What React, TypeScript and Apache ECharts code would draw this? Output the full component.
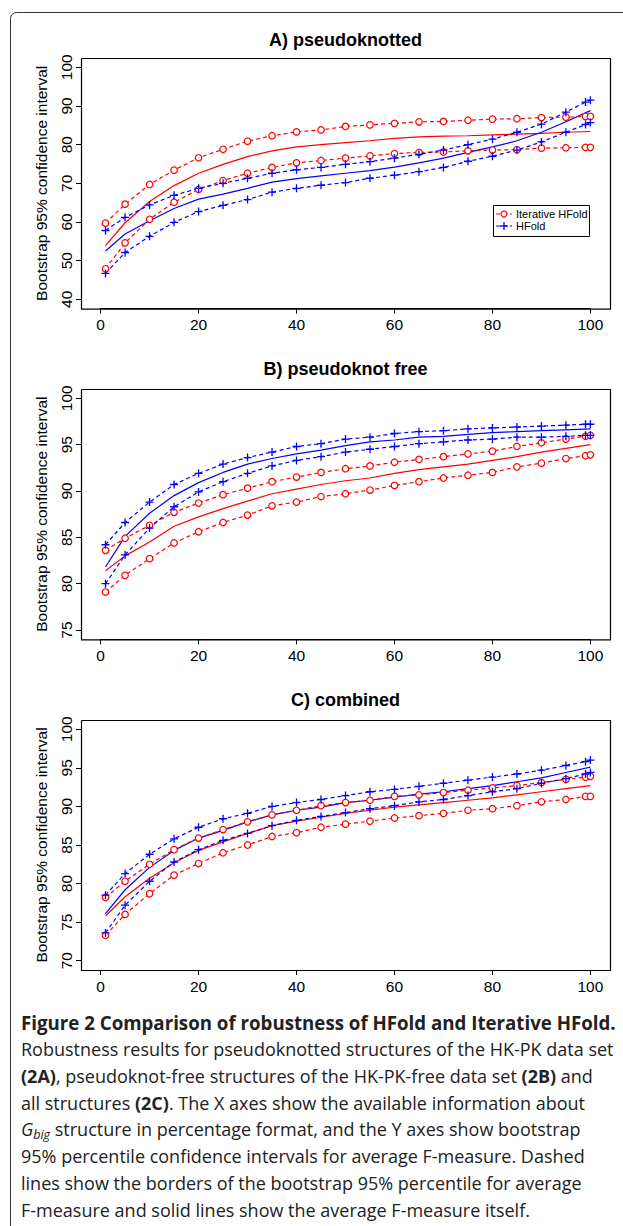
import React, { useEffect, useRef } from "react";
import * as echarts from "echarts";

// ---------- data ----------
const X_BOUND = [1, 5, 10, 15, 20, 25, 30, 35, 40, 45, 50, 55, 60, 65, 70, 75, 80, 85, 90, 95, 99, 100];
const X_MEAN = [1, 5, 10, 15, 20, 25, 30, 35, 40, 45, 50, 55, 60, 65, 70, 75, 80, 85, 90, 95, 100];
const X_RANGE = [0, 100];
const X_STEP = 20;
const A_RANGE = [40, 100];
const B_RANGE = [75, 100];
const C_RANGE = [70, 100];
const A_STEP = 10;
const B_STEP = 5;
const C_STEP = 5;
const TITLES = ["A) pseudoknotted", "B) pseudoknot free", "C) combined"];
const Y_NAME = "Bootstrap 95% confidence interval";
const LEGEND_NAMES = ["Iterative HFold", "HFold"];

// A) pseudoknotted
const aIterUp = [59.7, 64.6, 69.7, 73.4, 76.6, 78.8, 80.9, 82.3, 83.3, 83.8, 84.7, 85.1, 85.5, 85.9, 86.0, 86.3, 86.6, 86.7, 87.0, 87.1, 87.3, 87.3];
const aIterMean = [53.9, 59.8, 65.3, 69.4, 72.6, 74.9, 76.9, 78.4, 79.4, 80.0, 80.5, 81.0, 81.6, 82.0, 82.2, 82.3, 82.5, 82.7, 82.9, 83.2, 83.4];
const aIterLow = [47.9, 54.6, 60.7, 65.1, 68.4, 70.7, 72.6, 74.1, 75.3, 75.9, 76.5, 77.1, 77.7, 78.0, 78.1, 78.4, 78.6, 78.7, 79.1, 79.2, 79.3, 79.3];
const aHUp = [57.8, 61.2, 64.4, 66.9, 68.7, 70.0, 71.3, 72.6, 73.5, 74.1, 74.9, 75.6, 76.5, 77.5, 78.6, 80.0, 81.4, 83.2, 85.3, 88.4, 91.0, 91.5];
const aHMean = [52.5, 56.9, 60.3, 63.5, 65.9, 67.2, 68.7, 70.3, 71.2, 71.9, 72.6, 73.3, 74.2, 75.3, 76.5, 78.0, 79.4, 81.0, 83.2, 85.9, 88.8];
const aHLow = [46.7, 52.1, 56.3, 59.9, 62.7, 64.3, 65.8, 67.7, 68.7, 69.5, 70.2, 71.3, 72.1, 73.0, 74.1, 75.7, 77.0, 78.6, 80.7, 83.2, 85.2, 85.7];

// B) pseudoknot free
const bHUp = [84.2, 86.6, 88.8, 90.7, 91.9, 92.9, 93.6, 94.2, 94.8, 95.1, 95.6, 95.8, 96.2, 96.4, 96.5, 96.7, 96.8, 96.9, 97.0, 97.1, 97.2, 97.2];
const bHMean = [81.8, 85.1, 87.6, 89.5, 90.9, 92.0, 92.9, 93.5, 94.0, 94.4, 94.9, 95.3, 95.5, 95.8, 95.9, 96.1, 96.3, 96.4, 96.5, 96.6, 96.7];
const bHLow = [80.0, 83.1, 86.0, 88.3, 89.9, 91.0, 91.9, 92.7, 93.3, 93.7, 94.2, 94.5, 94.8, 95.1, 95.3, 95.5, 95.6, 95.8, 95.8, 95.9, 96.0, 96.0];
const bIterUp = [83.6, 84.9, 86.3, 87.7, 88.7, 89.6, 90.3, 91.0, 91.5, 92.0, 92.4, 92.7, 93.1, 93.4, 93.7, 94.0, 94.3, 94.8, 95.2, 95.6, 95.9, 96.0];
const bIterMean = [81.4, 83.0, 84.5, 86.2, 87.2, 88.1, 88.9, 89.7, 90.2, 90.7, 91.1, 91.4, 91.9, 92.3, 92.6, 92.9, 93.3, 93.7, 94.2, 94.6, 95.0];
const bIterLow = [79.1, 80.9, 82.7, 84.4, 85.6, 86.6, 87.4, 88.4, 88.8, 89.4, 89.7, 90.1, 90.6, 91.0, 91.4, 91.7, 92.0, 92.6, 93.0, 93.5, 93.8, 93.9];

// C) combined
const cHUp = [78.5, 81.3, 83.8, 85.8, 87.3, 88.4, 89.1, 90.0, 90.5, 90.9, 91.4, 91.9, 92.2, 92.6, 93.0, 93.4, 93.8, 94.2, 94.7, 95.3, 95.8, 96.0];
const cHMean = [76.1, 79.2, 82.1, 84.3, 85.9, 86.9, 88.0, 88.9, 89.5, 89.9, 90.5, 90.8, 91.2, 91.6, 91.9, 92.3, 92.7, 93.2, 93.7, 94.4, 95.1];
const cHLow = [73.6, 77.2, 80.3, 82.8, 84.4, 85.6, 86.5, 87.5, 88.2, 88.7, 89.2, 89.7, 90.1, 90.6, 90.9, 91.4, 91.9, 92.3, 93.0, 93.6, 94.2, 94.4];
const cIterUp = [78.2, 80.3, 82.5, 84.4, 85.9, 87.0, 88.0, 88.9, 89.5, 90.1, 90.5, 90.8, 91.3, 91.5, 91.8, 92.1, 92.4, 92.7, 93.1, 93.5, 93.8, 93.9];
const cIterMean = [75.8, 78.3, 80.7, 82.7, 84.3, 85.4, 86.5, 87.5, 88.1, 88.6, 89.1, 89.5, 89.9, 90.2, 90.5, 90.8, 91.1, 91.5, 91.9, 92.3, 92.7];
const cIterLow = [73.3, 76.0, 78.7, 81.1, 82.6, 84.0, 85.0, 86.1, 86.6, 87.3, 87.7, 88.1, 88.5, 88.8, 89.1, 89.5, 89.7, 90.1, 90.6, 90.9, 91.3, 91.3];

const CAPTION_TITLE = "Figure 2 Comparison of robustness of HFold and Iterative HFold.";
const CAPTION_LINES = [
  "Robustness results for pseudoknotted structures of the HK-PK data set",
  "{b|(2A)}, pseudoknot-free structures of the HK-PK-free data set {b|(2B)} and",
  "all structures {b|(2C)}. The X axes show the available information about",
  "{i|G}{sub|big} structure in percentage format, and the Y axes show bootstrap",
  "95% percentile confidence intervals for average F-measure. Dashed",
  "lines show the borders of the bootstrap 95% percentile for average",
  "F-measure and solid lines show the average F-measure itself.",
];

// ---------- styling / layout ----------
const RED = "#FF0000";
const BLUE = "#0000FF";
const FONT = "'Liberation Sans', Arial, Helvetica, sans-serif";
const CAP_FONT = "'Open Sans', 'Noto Sans', sans-serif";
const PLUS = "path://M5,0 L5,10 M0,5 L10,5";
const TICK_FS = 15.5;
const CAP_FS = 18;
const CAP_COLOR = "#222";

// plot boxes (R style: 4% padding beyond the tick range)
const BOX_LEFT = 81;
const BOX_W = 529;
const BOXES = [
  { top: 58, height: 250.6 },
  { top: 389, height: 250.3 },
  { top: 720, height: 250 },
];
const TITLE_Y = [39.5, 369, 700];
const PAD = 0.04 / 1.08; // fraction of box occupied by each padding

const zip = (xs: number[], ys: number[]) => xs.map((x, i) => [x, ys[i]]);

function boundSeries(idx: number, ys: number[], color: string, mark: "o" | "+") {
  return {
    type: "line",
    xAxisIndex: idx,
    yAxisIndex: idx,
    data: zip(X_BOUND, ys),
    silent: true,
    clip: false,
    lineStyle: { color, width: 1.2, type: [4, 3] },
    symbol: mark === "o" ? "circle" : PLUS,
    symbolSize: mark === "o" ? 6.5 : 8,
    itemStyle:
      mark === "o"
        ? { color: "#fff", borderColor: color, borderWidth: 1.2 }
        : { color, borderColor: color, borderWidth: 1.3 },
    z: 3,
  };
}

function meanSeries(idx: number, ys: number[], color: string) {
  return {
    type: "line",
    xAxisIndex: idx,
    yAxisIndex: idx,
    data: zip(X_MEAN, ys),
    silent: true,
    clip: false,
    symbol: "none",
    lineStyle: { color, width: 1.2, type: "solid" },
    z: 2,
  };
}

export default function App() {
  const ref = useRef<HTMLDivElement>(null);

  useEffect(() => {
    if (!ref.current) return;
    const chart = echarts.init(ref.current, undefined, { renderer: "svg" });

    const padX = BOX_W * PAD;
    const grid = BOXES.map((b) => {
      const padY = b.height * PAD;
      return {
        left: BOX_LEFT + padX,
        top: b.top + padY,
        width: BOX_W - 2 * padX,
        height: b.height - 2 * padY,
        show: false,
        containLabel: false,
      };
    });

    const yRanges = [A_RANGE, B_RANGE, C_RANGE];
    const ySteps = [A_STEP, B_STEP, C_STEP];

    const xAxis = BOXES.map((b, i) => ({
      type: "value",
      gridIndex: i,
      min: X_RANGE[0],
      max: X_RANGE[1],
      interval: X_STEP,
      offset: b.height * PAD,
      axisLine: { show: true, onZero: false, lineStyle: { color: "#000", width: 1 } },
      splitLine: { show: false },
      axisTick: { show: true, length: 5, lineStyle: { color: "#000", width: 1 } },
      axisLabel: { color: "#000", fontSize: TICK_FS, fontFamily: FONT, margin: 8, showMinLabel: true, showMaxLabel: true },
    }));

    const yAxis = BOXES.map((_, i) => ({
      type: "value",
      gridIndex: i,
      min: yRanges[i][0],
      max: yRanges[i][1],
      interval: ySteps[i],
      offset: padX,
      axisLine: { show: true, onZero: false, lineStyle: { color: "#000", width: 1 } },
      splitLine: { show: false },
      axisTick: { show: true, length: 5, lineStyle: { color: "#000", width: 1 } },
      axisLabel: {
        rotate: 90,
        color: "#000",
        fontSize: TICK_FS,
        fontFamily: FONT,
        margin: 7,
        showMinLabel: true,
        showMaxLabel: true,
      },
      name: Y_NAME,
      nameLocation: "middle",
      nameRotate: 90,
      nameGap: 32,
      nameTextStyle: { color: "#000", fontSize: TICK_FS, fontFamily: FONT },
    }));

    const series = [
      boundSeries(0, aIterUp, RED, "o"),
      meanSeries(0, aIterMean, RED),
      boundSeries(0, aIterLow, RED, "o"),
      boundSeries(0, aHUp, BLUE, "+"),
      meanSeries(0, aHMean, BLUE),
      boundSeries(0, aHLow, BLUE, "+"),
      boundSeries(1, bIterUp, RED, "o"),
      meanSeries(1, bIterMean, RED),
      boundSeries(1, bIterLow, RED, "o"),
      boundSeries(1, bHUp, BLUE, "+"),
      meanSeries(1, bHMean, BLUE),
      boundSeries(1, bHLow, BLUE, "+"),
      boundSeries(2, cIterUp, RED, "o"),
      meanSeries(2, cIterMean, RED),
      boundSeries(2, cIterLow, RED, "o"),
      boundSeries(2, cHUp, BLUE, "+"),
      meanSeries(2, cHMean, BLUE),
      boundSeries(2, cHLow, BLUE, "+"),
    ];

    const boxEls = BOXES.map((b) => {
      const x0 = BOX_LEFT + 0.5;
      const x1 = BOX_LEFT + BOX_W + 0.5;
      const y0 = b.top + 0.5;
      const y1 = b.top + b.height + 0.5;
      return {
        type: "polyline",
        shape: { points: [[x0, y0], [x1, y0], [x1, y1], [x0, y1], [x0, y0]] },
        style: { fill: "none", stroke: "#000", lineWidth: 1.2 },
      };
    });

    const titleEls = TITLES.map((t, i) => ({
      type: "text",
      x: BOX_LEFT + BOX_W / 2,
      y: TITLE_Y[i],
      style: {
        text: t,
        fontFamily: FONT,
        fontSize: 18,
        fontWeight: "bold",
        fill: "#000",
        align: "center",
        verticalAlign: "middle",
        textAlign: "center",
        textVerticalAlign: "middle",
      },
    }));

    const legendEls: any[] = [
      {
        type: "rect",
        shape: { x: 493.5, y: 205.5, width: 96, height: 31 },
        style: { fill: "#fff", stroke: "#000", lineWidth: 1 },
        z: 10,
      },
      {
        type: "line",
        shape: { x1: 496, y1: 214, x2: 512, y2: 214 },
        style: { stroke: RED, lineWidth: 1.2, lineDash: [4, 3] },
        z: 11,
      },
      {
        type: "circle",
        shape: { cx: 504, cy: 214, r: 3 },
        style: { fill: "#fff", stroke: RED, lineWidth: 1.2 },
        z: 12,
      },
      {
        type: "line",
        shape: { x1: 496, y1: 226, x2: 512, y2: 226 },
        style: { stroke: BLUE, lineWidth: 1.2, lineDash: [4, 3] },
        z: 11,
      },
      {
        type: "line",
        shape: { x1: 504, y1: 222, x2: 504, y2: 230 },
        style: { stroke: BLUE, lineWidth: 1.3 },
        z: 12,
      },
      {
        type: "line",
        shape: { x1: 500, y1: 226, x2: 508, y2: 226 },
        style: { stroke: BLUE, lineWidth: 1.3 },
        z: 12,
      },
      ...LEGEND_NAMES.map((n, i) => ({
        type: "text",
        x: 516,
        y: 214 + i * 12,
        z: 12,
        style: {
          text: n,
          fontFamily: FONT,
          fontSize: 11,
          fill: "#000",
          align: "left",
          verticalAlign: "middle",
          textAlign: "left",
          textVerticalAlign: "middle",
        },
      })),
    ];

    const capRich = {
      b: { fontFamily: CAP_FONT, fontSize: CAP_FS, fontWeight: "bold", fill: CAP_COLOR, lineHeight: 24 },
      i: { fontFamily: CAP_FONT, fontSize: CAP_FS, fontStyle: "italic", fill: CAP_COLOR, lineHeight: 24 },
      sub: { fontFamily: CAP_FONT, fontSize: 12.5, fontStyle: "italic", fill: CAP_COLOR, lineHeight: 13, verticalAlign: "bottom" },
    };

    const captionEls: any[] = [
      {
        type: "text",
        x: 21,
        y: 1022,
        style: {
          text: CAPTION_TITLE,
          fontFamily: CAP_FONT,
          fontSize: 18.7,
          fontWeight: "bold",
          fill: CAP_COLOR,
          align: "left",
          verticalAlign: "middle",
          textAlign: "left",
          textVerticalAlign: "middle",
        },
      },
      ...CAPTION_LINES.map((l, i) => ({
        type: "text",
        x: 21,
        y: 1049 + i * 26.8,
        style: {
          text: l,
          rich: capRich,
          fontFamily: CAP_FONT,
          fontSize: CAP_FS,
          lineHeight: 24,
          fill: CAP_COLOR,
          align: "left",
          verticalAlign: "middle",
          textAlign: "left",
          textVerticalAlign: "middle",
        },
      })),
    ];

    const frame = {
      type: "rect",
      shape: { x: 10.5, y: 12.5, width: 660, height: 1260, r: 6 },
      style: { fill: "none", stroke: "#333", lineWidth: 1 },
    };

    chart.setOption({
      animation: false,
      backgroundColor: "#fff",
      grid,
      xAxis,
      yAxis,
      series,
      graphic: [frame, ...boxEls, ...titleEls, ...legendEls, ...captionEls],
    });

    return () => chart.dispose();
  }, []);

  return (
    <div
      ref={ref}
      style={{ position: "absolute", left: 0, top: 0, width: 623, height: 1226 }}
    />
  );
}
